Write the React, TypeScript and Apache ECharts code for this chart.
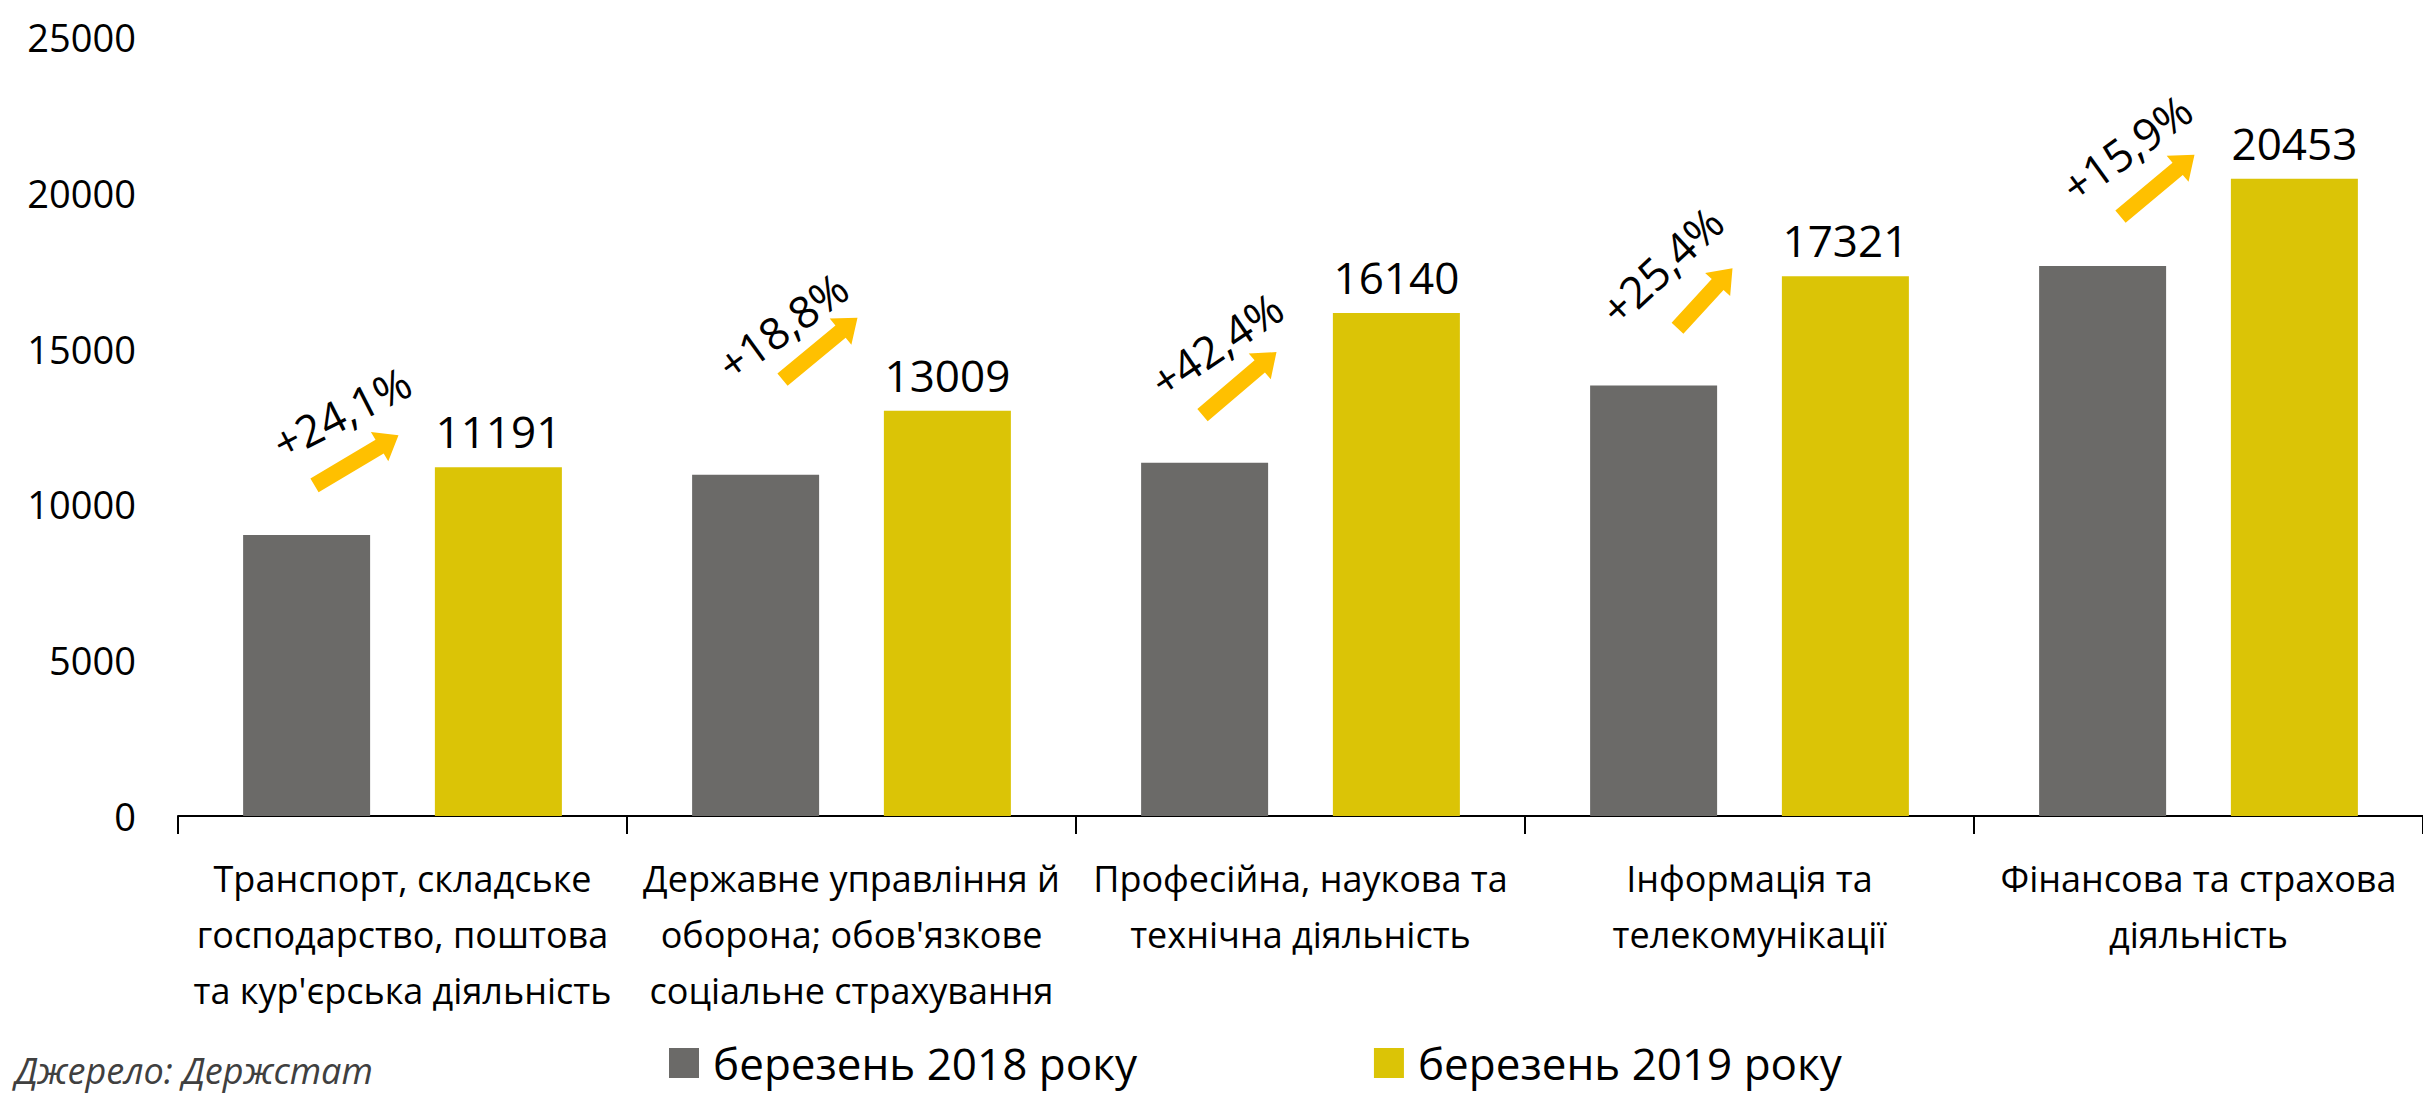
import React, { useEffect, useRef } from "react";
import * as echarts from "echarts";

const categories = [
  "Транспорт, складське\nгосподарство, поштова\nта кур'єрська діяльність",
  "Державне управління й\nоборона; обов'язкове\nсоціальне страхування",
  "Професійна, наукова та\nтехнічна діяльність",
  "Інформація та\nтелекомунікації",
  "Фінансова та страхова\nдіяльність",
];
const seriesNames = ["березень 2018 року", "березень 2019 року"];
const values2018 = [9018, 10950, 11334, 13813, 17647];
const values2019 = [11191, 13009, 16140, 17321, 20453];
const growthLabels = ["+24,1%", "+18,8%", "+42,4%", "+25,4%", "+15,9%"];
const yMin = 0;
const yMax = 25000;
const yInterval = 5000;
const sourceText = "Джерело: Держстат";

// annotation layout: pixel offsets relative to (category centre, top of 2019 bar)
const annotationLayout = [
  { tail: [-88, 18], head: [-4, -32], text: [-61, -55], rot: 27 },
  { tail: [-69, -31], head: [6, -93], text: [-69, -85], rot: 36 },
  { tail: [-98, 102], head: [-24, 39], text: [-84, 31], rot: 34 },
  { tail: [-72, 52], head: [-17, -8], text: [-88, -11], rot: 43 },
  { tail: [-78, 38], head: [-4, -24], text: [-72, -31], rot: 36 },
];

const GRAY = "#6b6a68";
const YELLOW = "#dbc406";
const ARROW = "#ffc000";
const FONT = "'Open Sans', 'Noto Sans', sans-serif";

function arrowPoints(t: number[], h: number[]) {
  const dx = h[0] - t[0];
  const dy = h[1] - t[1];
  const len = Math.sqrt(dx * dx + dy * dy);
  const ux = dx / len;
  const uy = dy / len;
  const nx = -uy;
  const ny = ux;
  const w = 8;
  const hw = 17;
  const hl = 22;
  const bx = h[0] - ux * hl;
  const by = h[1] - uy * hl;
  return [
    [t[0] + nx * w, t[1] + ny * w],
    [bx + nx * w, by + ny * w],
    [bx + nx * hw, by + ny * hw],
    [h[0], h[1]],
    [bx - nx * hw, by - ny * hw],
    [bx - nx * w, by - ny * w],
    [t[0] - nx * w, t[1] - ny * w],
  ];
}

export default function App() {
  const ref = useRef<HTMLDivElement>(null);
  useEffect(() => {
    if (!ref.current) return;
    const chart = echarts.init(ref.current, undefined, { renderer: "svg" });
    chart.setOption({
      animation: false,
      backgroundColor: "#ffffff",
      textStyle: { fontFamily: FONT },
      grid: { left: 178, top: 37, width: 2251, height: 779, containLabel: false },
      legend: {
        left: 664,
        top: 1036,
        itemWidth: 30,
        itemHeight: 30,
        itemGap: 237,
        icon: "rect",
        textStyle: { fontSize: 44, color: "#000", fontFamily: FONT, padding: [0, 0, 0, 9] },
        data: seriesNames,
      },
      xAxis: {
        type: "category",
        data: categories,
        axisLine: { lineStyle: { color: "#000", width: 2 } },
        axisTick: { show: true, length: 18, lineStyle: { color: "#000", width: 2 } },
        axisLabel: {
          interval: 0,
          margin: 34,
          fontSize: 36,
          lineHeight: 56,
          color: "#000",
          fontFamily: FONT,
        },
      },
      yAxis: {
        type: "value",
        min: yMin,
        max: yMax,
        interval: yInterval,
        axisLine: { show: false },
        axisTick: { show: false },
        splitLine: { show: false },
        axisLabel: {
          fontSize: 38,
          color: "#000",
          margin: 42,
          fontFamily: FONT,
          formatter: (v: number) => String(v),
        },
      },
      series: [
        {
          name: seriesNames[0],
          type: "bar",
          data: values2018,
          barWidth: 127,
          barGap: "51%",
          itemStyle: { color: GRAY },
        },
        {
          name: seriesNames[1],
          type: "bar",
          data: values2019,
          barWidth: 127,
          itemStyle: { color: YELLOW },
          label: {
            show: true,
            position: "top",
            distance: 14,
            fontSize: 44,
            color: "#000",
            fontFamily: FONT,
          },
        },
      ],
    });

    const graphics: any[] = [];
    values2019.forEach((v, i) => {
      const cx = chart.convertToPixel({ xAxisIndex: 0 }, i) as number;
      const cy = chart.convertToPixel({ yAxisIndex: 0 }, v) as number;
      const a = annotationLayout[i];
      const t = [cx + a.tail[0], cy + a.tail[1]];
      const h = [cx + a.head[0], cy + a.head[1]];
      graphics.push({
        type: "polygon",
        shape: { points: arrowPoints(t, h) },
        style: { fill: ARROW },
        silent: true,
      });
      graphics.push({
        type: "text",
        x: cx + a.text[0],
        y: cy + a.text[1],
        rotation: (a.rot * Math.PI) / 180,
        style: {
          text: growthLabels[i],
          fontSize: 44,
          fontFamily: FONT,
          fill: "#000",
          textAlign: "center",
          textVerticalAlign: "middle",
        },
        silent: true,
      });
    });
    graphics.push({
      type: "text",
      left: 15,
      top: 1052,
      style: {
        text: sourceText,
        fontSize: 36,
        fontStyle: "italic",
        fontFamily: FONT,
        fill: "#404040",
      },
      silent: true,
    });
    chart.setOption({ graphic: graphics });

    return () => chart.dispose();
  }, []);
  return (
    <div
      ref={ref}
      style={{ position: "fixed", left: 0, top: 0, width: "2423px", height: "1099px" }}
    />
  );
}
